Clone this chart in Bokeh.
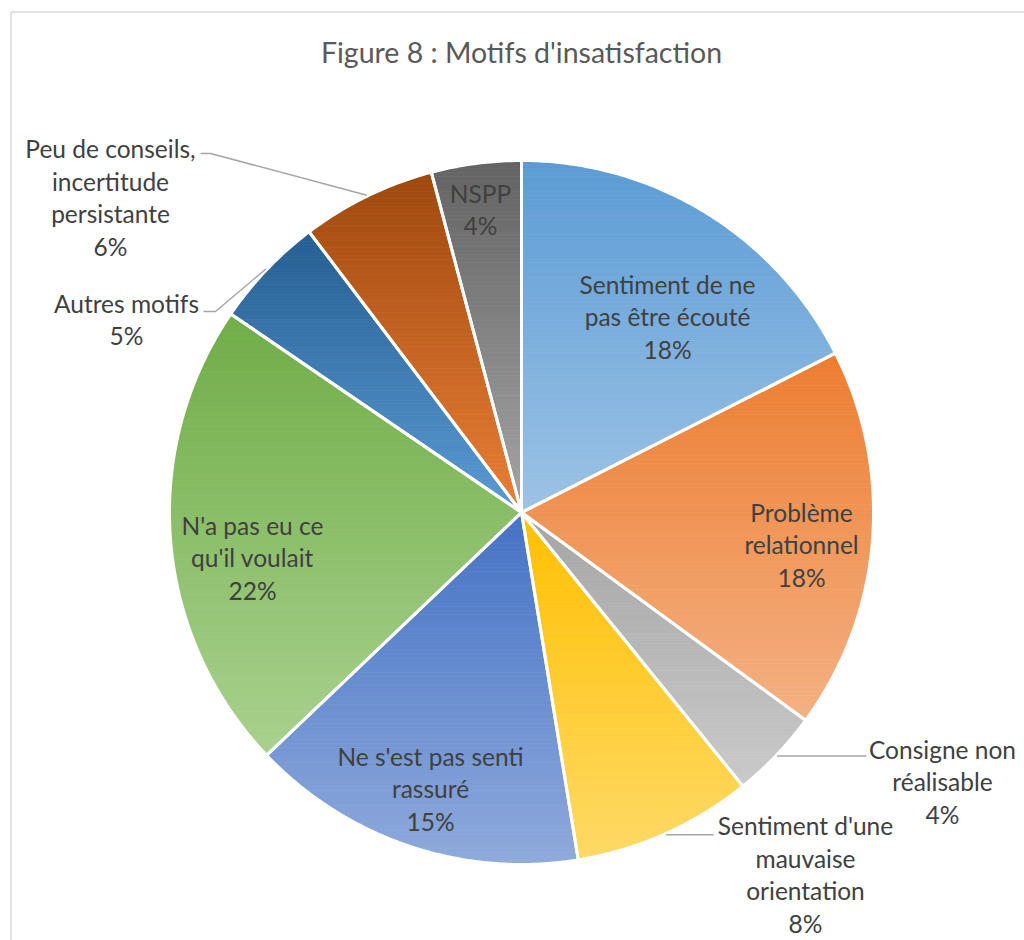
import math
from bokeh.plotting import figure
from bokeh.models import Range1d
from bokeh.embed import file_html
from bokeh.resources import INLINE
from bokeh.core.properties import value

# ---------------- data ----------------
title = "Figure 8 : Motifs d'insatisfaction"
categories = [
    "Sentiment de ne\npas être écouté",
    "Problème\nrelationnel",
    "Consigne non\nréalisable",
    "Sentiment d'une\nmauvaise\norientation",
    "Ne s'est pas senti\nrassuré",
    "N'a pas eu ce\nqu'il voulait",
    "Autres motifs",
    "Peu de conseils,\nincertitude\npersistante",
    "NSPP",
]
counts = [17, 17, 4, 8, 15, 21, 5, 6, 4]
colors_top = ["#5B9BD5", "#ED7D31", "#A5A5A5", "#FFC000", "#4472C4",
              "#70AD47", "#255E91", "#9E480E", "#636363"]
colors_bottom = ["#9DC3E6", "#F4B183", "#CACACA", "#FFD966", "#8FAADC",
                 "#A9D18E", "#5B9BD5", "#EA7F36", "#A5A5A5"]

# ---------------- layout ----------------
W, H = 1024, 940
CX, CY, R = 521.0, 512.0, 352.0
label_pos = [(667, 316), (801, 544), (942, 781), (805, 874), (430, 788),
             (252, 557), (126, 319), (110, 197), (480, 209)]
LINE_H = 32.5
# leader lines: slice index -> (elbow x, elbow y, end x); None = straight horizontal
leaders = {2: (None, None, 866), 3: (None, None, 713),
           6: (215, 311, 203), 7: (210, 153, 200)}

TEXT_FONT = "Lato"
LABEL_SIZE = "24.5px"
TITLE_SIZE = "28.5px"


def hex2rgb(h):
    h = h.lstrip("#")
    return tuple(int(h[i:i + 2], 16) for i in (0, 2, 4))


def rgb2hex(c):
    return "#%02x%02x%02x" % tuple(int(round(v)) for v in c)


def pt(theta_deg, r):
    t = math.radians(theta_deg)
    return CX + r * math.sin(t), CY - r * math.cos(t)


def clip_half(poly, keep, ylim):
    out = []
    n = len(poly)
    for i in range(n):
        cur = poly[i]
        prev = poly[i - 1]
        cin, pin = keep(cur), keep(prev)
        if cin:
            if not pin:
                t = (ylim - prev[1]) / (cur[1] - prev[1])
                out.append((prev[0] + t * (cur[0] - prev[0]), ylim))
            out.append(cur)
        elif pin:
            t = (ylim - prev[1]) / (cur[1] - prev[1])
            out.append((prev[0] + t * (cur[0] - prev[0]), ylim))
    return out


def clip_band(poly, y0, y1):
    p1 = clip_half(poly, lambda q: q[1] >= y0, y0)
    if not p1:
        return []
    return clip_half(p1, lambda q: q[1] <= y1, y1)


p = figure(width=W, height=H, output_backend="svg", toolbar_location=None,
           x_range=Range1d(0, W), y_range=Range1d(H, 0),
           min_border=0, background_fill_color="white", border_fill_color="white")
p.axis.visible = False
p.grid.visible = False
p.outline_line_color = None

# chart frame
p.multi_line(xs=[[10.5, 10.5], [10.5, 1040]], ys=[[1000, 11.5], [11.5, 11.5]],
             line_color="#D9D9D9", line_width=1.5)

total = float(sum(counts))
angles = [0.0]
for c in counts:
    angles.append(angles[-1] + 360.0 * c / total)

band_xs, band_ys, band_cols = [], [], []
slice_xs, slice_ys = [], []
for i in range(len(counts)):
    a0, a1 = angles[i], angles[i + 1]
    nseg = max(4, int((a1 - a0) / 0.5))
    poly = [(CX, CY)] + [pt(a0 + (a1 - a0) * k / nseg, R) for k in range(nseg + 1)]
    slice_xs.append([q[0] for q in poly])
    slice_ys.append([q[1] for q in poly])
    ymin = min(q[1] for q in poly)
    ymax = max(q[1] for q in poly)
    ct, cb = hex2rgb(colors_top[i]), hex2rgb(colors_bottom[i])
    nb = 90
    for b in range(nb):
        y0 = ymin + (ymax - ymin) * b / nb
        y1 = ymin + (ymax - ymin) * (b + 1) / nb
        part = clip_band(poly, y0, y1)
        if len(part) < 3:
            continue
        t = (b + 0.5) / nb
        col = rgb2hex(tuple(ct[k] * (1 - t) + cb[k] * t for k in range(3)))
        band_xs.append([q[0] for q in part])
        band_ys.append([q[1] for q in part])
        band_cols.append(col)

p.patches(band_xs, band_ys, fill_color=band_cols, line_color=band_cols, line_width=0.8)
p.patches(slice_xs, slice_ys, fill_alpha=0, line_color="white", line_width=3,
          line_join="miter")

# leader lines
for i, (ex, ey, tx) in leaders.items():
    mid = 0.5 * (angles[i] + angles[i + 1])
    sx, sy = pt(mid, R + 1)
    if ex is None:
        xs, ys = [sx, tx], [sy, sy]
    else:
        xs, ys = [sx, ex, tx], [sy, ey, ey]
    p.line(xs, ys, line_color="#A6A6A6", line_width=1.5)

# labels
lx, ly, lt = [], [], []
for i, cat in enumerate(categories):
    pct = "%d%%" % int(round(100.0 * counts[i] / total))
    lines = cat.split("\n") + [pct]
    cx, cy = label_pos[i]
    n = len(lines)
    for k, s in enumerate(lines):
        lx.append(cx)
        ly.append(cy + (k - (n - 1) / 2.0) * LINE_H)
        lt.append(s)
p.text(lx, ly, text=lt, text_align="center", text_baseline="middle",
       text_font=value(TEXT_FONT), text_font_size=LABEL_SIZE, text_color="#404040")

# title
p.text([521], [51], text=[title], text_align="center", text_baseline="middle",
       text_font=value(TEXT_FONT), text_font_size=TITLE_SIZE, text_color="#595959")

open("out.html", "w").write(file_html(p, INLINE))
